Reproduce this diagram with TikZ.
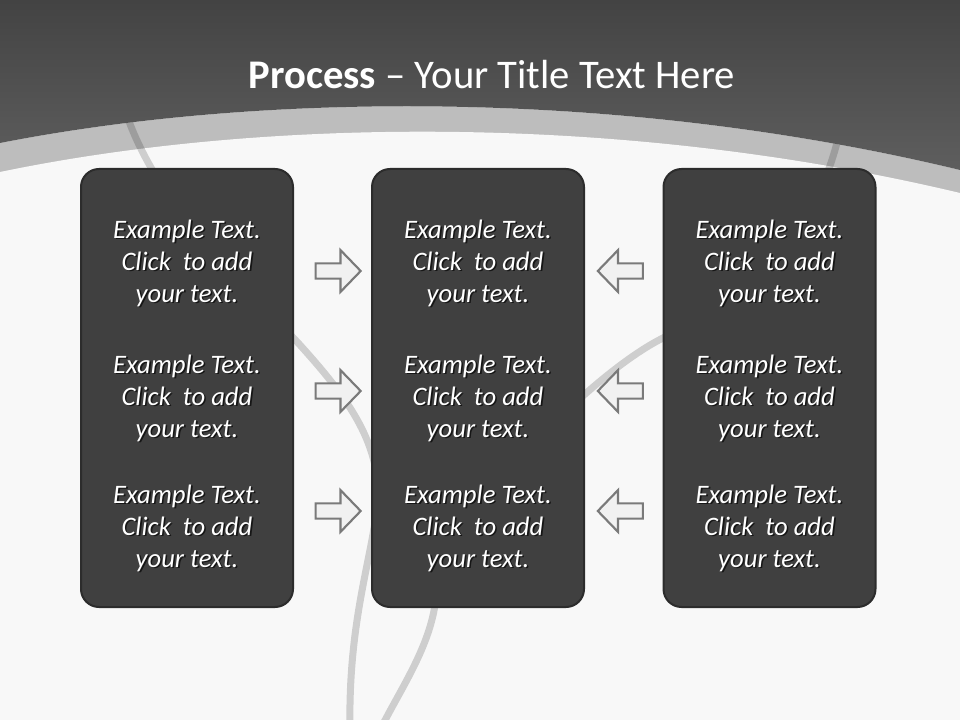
\documentclass[tikz,border=0pt]{standalone}
\usepackage{fontspec}
\setmainfont{Carlito}
\usetikzlibrary{shapes.arrows}
\definecolor{hdrtop}{HTML}{434343}
\definecolor{hdrbot}{HTML}{5E5E5E}
\definecolor{bandgray}{HTML}{BDBDBD}
\definecolor{paper}{HTML}{F8F8F8}
\definecolor{boxfill}{HTML}{404040}
\definecolor{boxline}{HTML}{2C2C2C}
\definecolor{arrline}{HTML}{7A7A7A}
\definecolor{arrfill}{HTML}{F1F1F1}

\begin{document}
\begin{tikzpicture}[x=0.75pt,y=-0.75pt,
  stage/.style={draw=boxline,fill=boxfill,line width=1.5pt,rounded corners=13.5pt,
    minimum width=159pt,minimum height=328.5pt,inner sep=0pt},
  blurb/.style={text=white,align=center,font=\fontsize{20}{24}\selectfont\itshape},
  blurbshadow/.style={blurb,text=black,text opacity=0.65},
  pointer/.style={single arrow,draw=arrline,fill=arrfill,line width=1.6pt,
    inner xsep=0pt,inner ysep=4.9pt,minimum height=33.75pt,
    single arrow head extend=10pt,single arrow tip angle=92},
  ribbon/.style={line width=5.25pt,black,opacity=0.17}]
\useasboundingbox (0,0) rectangle (960,720);
\clip (0,0) rectangle (960,720);
\fill[paper] (0,0) rectangle (960,720);
\fill[bandgray] (0,143) .. controls (260,92) and (620,88) .. (960,170) -- (960,720) -- (0,720) -- cycle;
\fill[paper] (0,172) .. controls (260,118) and (620,112) .. (960,193) -- (960,720) -- (0,720) -- cycle;
\draw[ribbon] (122,100) .. controls (150,200) and (240,280) .. (300,345)
  .. controls (345,395) and (380,440) .. (378,500)
  .. controls (372,560) and (348,620) .. (350,730);
\draw[ribbon] (842,120) .. controls (820,240) and (740,300) .. (663,338)
  .. controls (590,374) and (445,520) .. (435,605)
  .. controls (428,650) and (400,690) .. (380,730);
\shade[top color=hdrtop,bottom color=hdrbot] (0,0) -- (960,0) -- (960,170)
  .. controls (620,88) and (260,92) .. (0,143) -- cycle;
\node[font=\fontsize{30.5}{36}\selectfont,text=white] (title) at (492,75)
  {\textbf{Process} – Your Title Text Here};
\node[stage] (left) at (187,388) {};
\node[stage] (middle) at (478,388) {};
\node[stage] (right) at (769.5,388) {};
\foreach \col in {left,middle,right}
  \foreach \row/\ty in {1/263,2/398,3/528} {
    \node[blurbshadow] at ([xshift=1.2pt,yshift=-1.2pt]\col.center |- 0,\ty) {Example Text.\\Click~ to add\\your text.};
    \node[blurb] (\col-\row) at (\col.center |- 0,\ty) {Example Text.\\Click~ to add\\your text.};
  }
\foreach \row/\ay in {1/271,2/391,3/511} {
  \node[pointer] (in-\row) at (334.5,\ay) {};
  \node[pointer,shape border rotate=180] (back-\row) at (624,\ay) {};
}
\end{tikzpicture}
\end{document}
